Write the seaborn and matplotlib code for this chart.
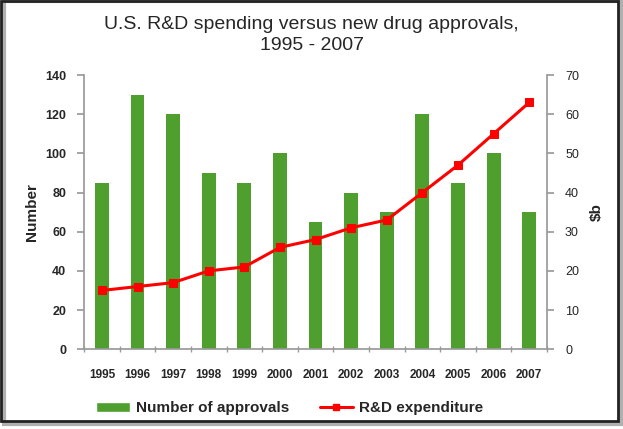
import matplotlib.pyplot as plt
import numpy as np
import pandas as pd
import seaborn as sns
from matplotlib.lines import Line2D
from matplotlib.patches import Patch, Rectangle

years = ["1995", "1996", "1997", "1998", "1999", "2000", "2001",
         "2002", "2003", "2004", "2005", "2006", "2007"]
approvals = [85, 130, 120, 90, 85, 100, 65, 80, 70, 120, 85, 100, 70]
rd_spend = [15, 16, 17, 20, 21, 26, 28, 31, 33, 40, 47, 55, 63]

GREEN = "#4e9f2e"
RED = "#ff0000"
GREY = "#9a9a9a"

sns.set_theme(style="white")
plt.rcParams["font.family"] = ["Liberation Sans", "DejaVu Sans"]

df = pd.DataFrame({"year": years, "approvals": approvals, "rd": rd_spend})

fig = plt.figure(figsize=(6.23, 4.29), dpi=100)
ax = fig.add_axes([0.135, 0.186, 0.743, 0.639])

sns.barplot(data=df, x="year", y="approvals", color=GREEN, width=0.39,
            saturation=1, linewidth=0, ax=ax)
ax.set_ylim(0, 140)
ax.set_yticks(range(0, 141, 20))
ax.set_xlim(-0.5, len(years) - 0.5)
ax.set_xlabel("")
ax.set_ylabel("Number", fontsize=11, fontweight="bold", labelpad=4)

ax2 = ax.twinx()
sns.lineplot(data=df, x="year", y="rd", color=RED, marker="s",
             markersize=6, markeredgecolor=RED, linewidth=2.2, ax=ax2)
ax2.set_ylim(0, 70)
ax2.set_yticks(range(0, 71, 10))
ax2.set_xlim(-0.5, len(years) - 0.5)
ax2.set_ylabel("$b", fontsize=11, fontweight="bold", rotation=90, labelpad=8)

for a in (ax, ax2):
    for s in a.spines.values():
        s.set_visible(False)
ax.spines["left"].set_visible(True)
ax.spines["left"].set_color(GREY)
ax.spines["bottom"].set_visible(True)
ax.spines["bottom"].set_color(GREY)
ax2.spines["right"].set_visible(True)
ax2.spines["right"].set_color(GREY)

ax.tick_params(axis="y", left=True, length=5, color=GREY, labelsize=9, pad=8)
ax2.tick_params(axis="y", right=True, length=5, color=GREY, labelsize=9, pad=8)
ax.tick_params(axis="x", bottom=False, labelsize=8.5, pad=8)
ax.set_xticks(np.arange(-0.5, len(years)), minor=True)
ax.tick_params(axis="x", which="minor", bottom=True, length=5, color=GREY,
               direction="inout")
for lab in ax.get_yticklabels() + ax.get_xticklabels():
    lab.set_fontweight("bold")

fig.suptitle("U.S. R&D spending versus new drug approvals,\n1995 - 2007",
             fontsize=14, y=0.962, linespacing=1.3)

handles = [Patch(facecolor=GREEN, label="Number of approvals"),
           Line2D([0], [0], color=RED, lw=2.2, marker="s", markersize=4,
                  label="R&D expenditure")]
fig.legend(handles=handles, loc="lower center", ncol=2, frameon=False,
           bbox_to_anchor=(0.465, 0.0), prop={"weight": "bold", "size": 11},
           handlelength=2.2, handletextpad=0.4, columnspacing=2.0)

# frame with shadow
fig.patches.append(Rectangle((0.006, 0.012), 0.991, 0.985,
                             transform=fig.transFigure, fill=False,
                             edgecolor="#b0b0b0", linewidth=3, zorder=0))
fig.patches.append(Rectangle((0.002, 0.018), 0.990, 0.979,
                             transform=fig.transFigure, fill=False,
                             edgecolor="#222222", linewidth=2, zorder=1))

fig.savefig("out.png", dpi=100)
